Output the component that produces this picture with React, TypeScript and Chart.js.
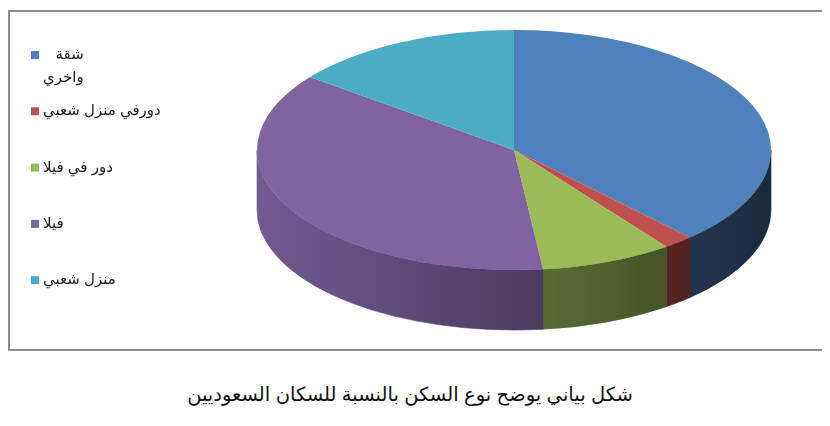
import React, { useEffect, useRef } from 'react';
import { Chart, registerables } from 'chart.js';

Chart.register(...registerables);

// Housing types (legend labels, multi-line where the label wraps)
const categories: string[][] = [
  ['شقة', 'واخري'],
  ['دورفي منزل شعبي'],
  ['دور في فيلا'],
  ['فيلا'],
  ['منزل شعبي'],
];
// Share of each housing type (%)
const shares: number[] = [38.0, 1.9, 8.3, 37.2, 14.6];
const sliceColors: string[] = ['#4f81bd', '#c0504d', '#9bbb59', '#8064a2', '#4bacc6'];
const caption = 'شكل بياني يوضح نوع السكن بالنسبة للسكان السعوديين';

const CANVAS_W = 812;
const CANVAS_H = 337;
// Tilted pie geometry on the canvas
const PIE = { cx: 504, cy: 138, rx: 257, ry: 120, depth: 60 };
const FONT = '15px Arial, "DejaVu Sans", sans-serif';

function hexToRgb(hex: string): [number, number, number] {
  const n = parseInt(hex.slice(1), 16);
  return [(n >> 16) & 255, (n >> 8) & 255, n & 255];
}

function shade(hex: string, f: number): string {
  const [r, g, b] = hexToRgb(hex);
  const c = (v: number) => Math.max(0, Math.min(255, Math.round(v * f)));
  return `rgb(${c(r)},${c(g)},${c(b)})`;
}

// Side walls drawn from the arc angles, then the top face squashed into an ellipse
const pie3d = {
  id: 'pie3d',
  beforeDatasetsDraw(chart: any) {
    const meta = chart.getDatasetMeta(0);
    const arcs = meta.data;
    chart.$pieSaved = false;
    if (!arcs.length) return;
    const ctx: CanvasRenderingContext2D = chart.ctx;
    const { cx, cy, rx, ry, depth } = PIE;
    const left = cx - rx;
    const lightAt = (x: number) => Math.max(0.3, 0.9 - (0.32 * (x - left)) / 286);

    arcs.forEach((arc: any, i: number) => {
      const a = arc.startAngle;
      const b = arc.endAngle;
      for (let k = -1; k <= 1; k++) {
        const lo = Math.max(a, 2 * Math.PI * k);
        const hi = Math.min(b, Math.PI + 2 * Math.PI * k);
        if (hi <= lo) continue;
        const x1 = cx + rx * Math.cos(lo);
        const x2 = cx + rx * Math.cos(hi);
        const xl = Math.min(x1, x2);
        const xr = Math.max(x1, x2);
        const base = sliceColors[i];
        const grad = ctx.createLinearGradient(xl, 0, xr + 0.01, 0);
        grad.addColorStop(0, shade(base, lightAt(xl)));
        grad.addColorStop(1, shade(base, lightAt(xr)));
        ctx.save();
        ctx.beginPath();
        ctx.ellipse(cx, cy, rx, ry, 0, lo, hi, false);
        ctx.ellipse(cx, cy + depth, rx, ry, 0, hi, lo, true);
        ctx.closePath();
        ctx.fillStyle = grad;
        ctx.fill();
        ctx.strokeStyle = grad;
        ctx.lineWidth = 0.6;
        ctx.stroke();
        ctx.restore();
      }
    });

    const a0 = arcs[0];
    const r0 = a0.outerRadius;
    ctx.save();
    ctx.translate(cx, cy);
    ctx.scale(rx / r0, ry / r0);
    ctx.translate(-a0.x, -a0.y);
    chart.$pieSaved = true;
  },
  afterDatasetsDraw(chart: any) {
    if (chart.$pieSaved) {
      chart.ctx.restore();
      chart.$pieSaved = false;
    }
  },
};

// Legend on the left: colour square and right-aligned label lines
const sideLegend = {
  id: 'sideLegend',
  afterDraw(chart: any) {
    const ctx: CanvasRenderingContext2D = chart.ctx;
    ctx.save();
    ctx.font = FONT;
    ctx.textBaseline = 'middle';
    categories.forEach((lines, i) => {
      const y = 43 + i * 56.3;
      ctx.fillStyle = sliceColors[i];
      ctx.fillRect(21, y - 4, 8, 8);
      const w = Math.max(...lines.map((l) => ctx.measureText(l).width));
      ctx.fillStyle = '#1a1a1a';
      ctx.textAlign = 'right';
      lines.forEach((l, j) => {
        ctx.fillText(l, 33 + w, y + j * 23);
      });
    });
    ctx.restore();
  },
};

export default function App() {
  const ref = useRef<HTMLCanvasElement | null>(null);

  useEffect(() => {
    if (!ref.current) return;
    const chart = new Chart(ref.current, {
      type: 'pie',
      data: {
        labels: categories,
        datasets: [
          {
            data: shares,
            backgroundColor: sliceColors,
            borderWidth: 0,
            clip: false as any,
          },
        ],
      },
      options: {
        responsive: false,
        animation: false,
        events: [],
        plugins: {
          legend: { display: false },
          tooltip: { enabled: false },
        },
      },
      plugins: [pie3d, sideLegend],
    });
    return () => chart.destroy();
  }, []);

  return (
    <div style={{ position: 'relative', width: 816, height: 410, paddingTop: 2 }}>
      <div
        style={{
          width: 816,
          height: 341,
          boxSizing: 'border-box',
          border: '2px solid #8c8c8c',
          background: '#fff',
        }}
      >
        <canvas ref={ref} width={CANVAS_W} height={CANVAS_H} style={{ display: 'block' }} />
      </div>
      <div
        dir="rtl"
        style={{
          position: 'absolute',
          left: 0,
          top: 373,
          width: 816,
          boxSizing: 'border-box',
          paddingRight: 12,
          textAlign: 'center',
          fontFamily: 'Arial, "DejaVu Sans", sans-serif',
          fontSize: 19.5,
          lineHeight: '26px',
          color: '#111',
        }}
      >
        {caption}
      </div>
    </div>
  );
}
